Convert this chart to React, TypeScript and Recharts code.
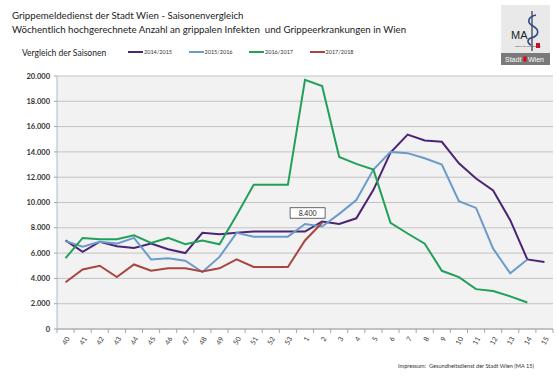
import React from "react";
import {
  LineChart,
  Line,
  XAxis,
  YAxis,
  CartesianGrid,
  Legend,
} from "recharts";

// Kalenderwochen 40..53, 1..15
const weeks = [
  "40", "41", "42", "43", "44", "45", "46", "47", "48", "49", "50", "51", "52", "53",
  "1", "2", "3", "4", "5", "6", "7", "8", "9", "10", "11", "12", "13", "14", "15",
];

const season1415 = [
  7000, 6100, 6900, 6550, 6400, 6750, 6300, 6000, 7600, 7500, 7600, 7700, 7700, 7700,
  7700, 8500, 8300, 8750, 11000, 13950, 15370, 14900, 14800, 13100, 11900, 10950, 8600, 5500, 5300,
];
const season1516 = [
  6950, 6500, 6900, 6750, 7200, 5500, 5600, 5400, 4500, 5700, 7600, 7300, 7300, 7300,
  8300, 8100, 9100, 10200, 12600, 14000, 13900, 13500, 13000, 10100, 9570, 6350, 4400, 5500, null,
];
const season1617 = [
  5600, 7200, 7100, 7100, 7400, 6800, 7200, 6700, 7000, 6700, 9000, 11400, 11400, 11400,
  19700, 19200, 13600, 13050, 12600, 8400, 7550, 6750, 4600, 4100, 3150, 3000, 2580, 2100, null,
];
const season1718 = [
  3700, 4700, 5000, 4100, 5100, 4600, 4800, 4800, 4550, 4800, 5500, 4900, 4900, 4900,
  7000, 8400, null, null, null, null, null, null, null, null, null, null, null, null, null,
];

const yTicks = [0, 2000, 4000, 6000, 8000, 10000, 12000, 14000, 16000, 18000, 20000];

const seasons = [
  { key: "s1415", name: "2014/2015", color: "#4b2474", values: season1415 },
  { key: "s1516", name: "2015/2016", color: "#6b9bcb", values: season1516 },
  { key: "s1617", name: "2016/2017", color: "#22a05a", values: season1617 },
  { key: "s1718", name: "2017/2018", color: "#a8463f", values: season1718 },
];

const data = weeks.map((w, i) => {
  const row: Record<string, string | number | null> = { week: w };
  seasons.forEach((s) => (row[s.key] = s.values[i]));
  return row;
});

const fmt = (v: number) => v.toLocaleString("de-DE");

const W = 558;
const H = 384;
const HALF_BAND = (553 - 57) / weeks.length / 2;

function WeekTick(props: any) {
  const { x, y, payload, index } = props;
  const last = index === weeks.length - 1;
  return (
    <g>
      <line x1={x - HALF_BAND} y1={y} x2={x - HALF_BAND} y2={y + 4} stroke="#a6a6a6" />
      {last && <line x1={x + HALF_BAND} y1={y} x2={x + HALF_BAND} y2={y + 4} stroke="#a6a6a6" />}
      <text
        x={x + 2}
        y={y + 8}
        transform={`rotate(-60 ${x + 2} ${y + 8})`}
        textAnchor="end"
        dominantBaseline="central"
        fontSize={7}
        fill="#333"
      >
        {payload.value}
      </text>
    </g>
  );
}

function SeasonLegend(props: any) {
  const { payload } = props;
  return (
    <div style={{ display: "flex" }}>
      {payload.map((p: any) => (
        <div key={p.value} style={{ width: 60.5, display: "flex", alignItems: "center" }}>
          <span style={{ width: 15, height: 2, background: p.color, display: "inline-block" }} />
          <span style={{ fontSize: 5.5, color: "#333", marginLeft: 1 }}>{p.value}</span>
        </div>
      ))}
    </div>
  );
}

// Datenbeschriftung nur bei KW 2 der Saison 2017/2018
function PeakLabel(props: any) {
  const { x, y, index, value } = props;
  if (index !== 15 || value == null) return <g />;
  return (
    <g>
      <rect x={x - 32} y={y - 15} width={35} height={10.5} fill="#fff" stroke="#404040" strokeWidth={0.8} />
      <text x={x - 14.5} y={y - 9.5} textAnchor="middle" dominantBaseline="central" fontSize={7} fill="#222">
        {fmt(value)}
      </text>
    </g>
  );
}

function Logo() {
  return (
    <svg width={49} height={60} style={{ position: "absolute", left: 501, top: 5 }}>
      <rect x={0} y={0} width={49} height={48} fill="#e9e9e9" />
      <text x={10} y={34} fontSize={11} fill="#222" fontFamily="Liberation Sans, Arial">MA</text>
      <path d="M31 6 L31 46" stroke="#334" strokeWidth={1.2} />
      <path d="M35 10 C26 12 26 18 32 21 C39 25 38 31 30 33 C26 34 26 38 30 40" stroke="#2d4b8a" strokeWidth={1.6} fill="none" />
      <text x={14} y={42} fontSize={2.5} fill="#444">GESUNDHEITSDIENST</text>
      <rect x={35} y={38} width={4} height={5} fill="#c8102e" />
      <rect x={0} y={48} width={49} height={12} fill="#7a7a7a" />
      <text x={4} y={57} fontSize={7} fill="#fff" fontFamily="Liberation Sans, Arial">Stadt</text>
      <rect x={22.5} y={51.5} width={3} height={5} fill="#e3000f" />
      <text x={27} y={57} fontSize={7} fill="#fff" fontFamily="Liberation Sans, Arial">Wien</text>
    </svg>
  );
}

export default function App() {
  return (
    <div
      style={{
        position: "absolute",
        left: 0,
        top: 0,
        width: W,
        height: H,
        background: "#fff",
        fontFamily: "Lato, 'Liberation Sans', Arial, sans-serif",
        color: "#333",
      }}
    >
      <div style={{ position: "absolute", left: 12, top: 8, fontSize: 9.7, lineHeight: "14px", whiteSpace: "nowrap", color: "#222" }}>
        <div>Grippemeldedienst der Stadt Wien - Saisonenvergleich</div>
        <div>Wöchentlich hochgerechnete Anzahl an grippalen Infekten&nbsp; und Grippeerkrankungen in Wien</div>
      </div>
      <div style={{ position: "absolute", left: 22, top: 48, fontSize: 8.5, whiteSpace: "nowrap", color: "#222" }}>
        Vergleich der Saisonen
      </div>
      <Logo />
      <div style={{ position: "absolute", left: 59, top: 315, fontSize: 7, letterSpacing: 0.1 }}>KALENDERWOCHE</div>
      <div style={{ position: "absolute", left: 398, top: 362, fontSize: 5.6, whiteSpace: "nowrap" }}>
        Impressum:&nbsp; Gesundheitsdienst der Stadt Wien (MA 15)
      </div>
      <LineChart
        width={W}
        height={H}
        data={data}
        margin={{ top: 70, right: 5, bottom: 0, left: 7 }}
        style={{ position: "absolute", left: 0, top: 0 }}
      >
        <CartesianGrid vertical={false} stroke="#c3c3c3" fill="#f2f2f2" />
        <XAxis
          dataKey="week"
          interval={0}
          height={55}
          padding={{ left: HALF_BAND, right: HALF_BAND }}
          tickLine={false}
          tickSize={0}
          tickMargin={0}
          axisLine={{ stroke: "#a6a6a6" }}
          tick={<WeekTick />}
        />
        <YAxis
          width={50}
          domain={[0, 20000]}
          ticks={yTicks}
          tickFormatter={fmt}
          interval={0}
          tickSize={3}
          tickMargin={4}
          tickLine={{ stroke: "#a6a6a6" }}
          axisLine={{ stroke: "#a9bccc" }}
          tick={{ fontSize: 7.5, fill: "#333", fontWeight: 700 }}
        />
        <YAxis yAxisId="border" orientation="right" width={0} tick={false} axisLine={{ stroke: "#a9bccc" }} />
        <Legend
          verticalAlign="top"
          align="left"
          content={<SeasonLegend />}
          wrapperStyle={{ position: "absolute", top: 49, left: 128, width: 260 }}
        />
        {seasons.map((s) => (
          <Line
            key={s.key}
            dataKey={s.key}
            name={s.name}
            type="linear"
            stroke={s.color}
            strokeWidth={2}
            dot={false}
            activeDot={false}
            isAnimationActive={false}
            label={s.key === "s1718" ? <PeakLabel /> : undefined}
          />
        ))}
      </LineChart>
    </div>
  );
}
